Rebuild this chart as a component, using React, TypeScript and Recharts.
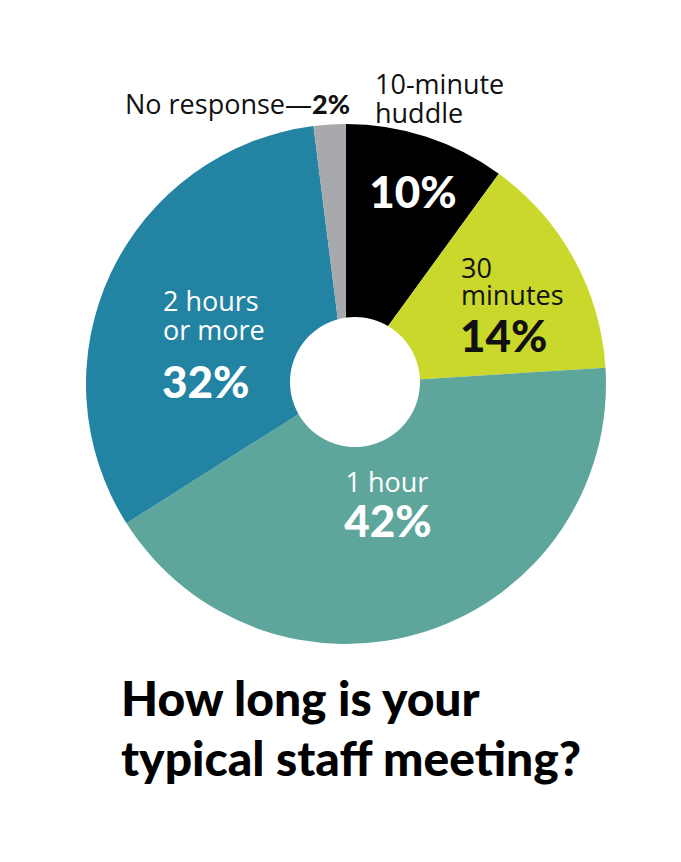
import React from "react";
import { PieChart, Pie, Cell } from "recharts";

const categories = ["10-minute huddle", "30 minutes", "1 hour", "2 hours or more", "No response"];
const values = [10, 14, 42, 32, 2];
const colors = ["#000000", "#c9d82a", "#5ea69c", "#2383a3", "#a7a9ac"];

const data = categories.map((name, i) => ({ name, value: values[i] }));
const holeData = [{ name: "hole", value: 1 }];

const FONT = "'Open Sans', Lato, sans-serif";
const BOLD = "Lato, 'Open Sans', sans-serif";
const FS = 27;

const renderLabel = (props: any) => {
  const { cx, cy, index } = props;
  const v = values[index];
  const pct = `${v}%`;
  if (index === 0) {
    return (
      <g key="l0">
        <text x={cx + 29} y={cy - 290} fontSize={FS} fontFamily={FONT} fill="#111">10-minute</text>
        <text x={cx + 29} y={cy - 261} fontSize={FS} fontFamily={FONT} fill="#111">huddle</text>
        <text x={cx + 67} y={cy - 176} fontSize={44} fontWeight={900} fontFamily={BOLD} fill="#fff" textAnchor="middle">{pct}</text>
      </g>
    );
  }
  if (index === 1) {
    return (
      <g key="l1">
        <text x={cx + 115} y={cy - 106} fontSize={FS} fontFamily={FONT} fill="#111">30</text>
        <text x={cx + 115} y={cy - 79} fontSize={FS} fontFamily={FONT} fill="#111">minutes</text>
        <text x={cx + 114} y={cy - 32} fontSize={44} fontWeight={900} fontFamily={BOLD} fill="#111">{pct}</text>
      </g>
    );
  }
  if (index === 2) {
    return (
      <g key="l2">
        <text x={cx + 41} y={cy + 108} fontSize={FS} fontFamily={FONT} fill="#fff" textAnchor="middle">1 hour</text>
        <text x={cx + 42} y={cy + 153} fontSize={44} fontWeight={900} fontFamily={BOLD} fill="#fff" textAnchor="middle">{pct}</text>
      </g>
    );
  }
  if (index === 3) {
    return (
      <g key="l3">
        <text x={cx - 183} y={cy - 73} fontSize={FS} fontFamily={FONT} fill="#fff">2 hours</text>
        <text x={cx - 183} y={cy - 44} fontSize={FS} fontFamily={FONT} fill="#fff">or more</text>
        <text x={cx - 184} y={cy + 14} fontSize={44} fontWeight={900} fontFamily={BOLD} fill="#fff">{pct}</text>
      </g>
    );
  }
  return (
    <g key="l4">
      <text x={cx + 4} y={cy - 270} fontSize={FS} fontFamily={FONT} fill="#111" textAnchor="end">
        No response—<tspan fontWeight={900} fontFamily={BOLD}>{pct}</tspan>
      </text>
    </g>
  );
};

export default function App() {
  return (
    <div style={{ position: "absolute", left: 0, top: 0, width: 681, height: 862, background: "#fff" }}>
      <PieChart width={681} height={862} margin={{ top: 0, right: 0, bottom: 0, left: 0 }}>
        <Pie
          data={data}
          dataKey="value"
          nameKey="name"
          cx={346}
          cy={384}
          outerRadius={260}
          innerRadius={0}
          startAngle={90}
          endAngle={-270}
          stroke="none"
          isAnimationActive={false}
          label={renderLabel}
          labelLine={false}
        >
          {data.map((d, i) => (
            <Cell key={d.name} fill={colors[i]} />
          ))}
        </Pie>
        <Pie
          data={holeData}
          dataKey="value"
          cx={355}
          cy={382}
          outerRadius={65}
          stroke="none"
          fill="#ffffff"
          isAnimationActive={false}
        />
      </PieChart>
      <div
        style={{
          position: "absolute",
          left: 121,
          top: 668,
          fontFamily: BOLD,
          fontWeight: 900,
          fontSize: 48,
          lineHeight: "60px",
          color: "#000",
          letterSpacing: 0,
        }}
      >
        How long is your
        <br />
        typical staff meeting?
      </div>
    </div>
  );
}
